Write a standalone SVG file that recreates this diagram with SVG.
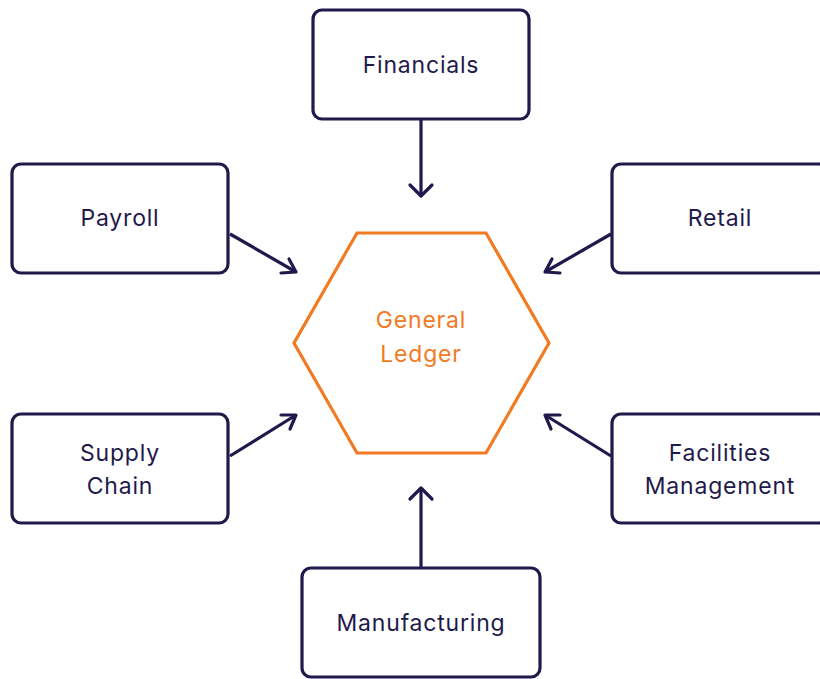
<svg xmlns="http://www.w3.org/2000/svg" width="820" height="679" viewBox="0 0 820 679">
<defs>
<style>
.box{fill:#ffffff;stroke:#1f1a4b;stroke-width:3.2}
.lbl{font-family:Inter,"Noto Sans","Liberation Sans",sans-serif;font-size:23px;letter-spacing:0.8px;fill:#1f1a4b;text-anchor:middle}
.hex{fill:#ffffff;stroke:#f27a22;stroke-width:3.2}
.hlbl{font-family:Inter,"Noto Sans","Liberation Sans",sans-serif;font-size:23px;letter-spacing:0.8px;fill:#f27a22;text-anchor:middle}
.conn{fill:none;stroke:#1f1a4b;stroke-width:3.2}
.head{fill:none;stroke:#1f1a4b;stroke-width:3.2;stroke-linecap:round;stroke-linejoin:round}
</style>
</defs>
<rect width="820" height="679" fill="#ffffff"/>
<g id="connectors">
<line class="conn" x1="421" y1="119" x2="421" y2="196"/>
<polyline class="head" points="410,185 421,196 432,185"/>
<line class="conn" x1="230" y1="234" x2="296" y2="272"/>
<polyline class="head" points="281,273 296,272 289,259"/>
<line class="conn" x1="611" y1="234" x2="545" y2="272"/>
<polyline class="head" points="560,273 545,272 552,259"/>
<line class="conn" x1="230" y1="456" x2="296" y2="415"/>
<polyline class="head" points="281,415 296,415 290,429"/>
<line class="conn" x1="611" y1="456" x2="545" y2="415"/>
<polyline class="head" points="560,415 545,415 551,429"/>
<line class="conn" x1="421" y1="567" x2="421" y2="488"/>
<polyline class="head" points="410,499 421,488 432,499"/>
</g>
<g id="node-financials">
<rect class="box" x="313" y="10" width="216" height="109" rx="9"/>
<text class="lbl" x="421" y="73">Financials</text>
</g>
<g id="node-payroll">
<rect class="box" x="12" y="164" width="216" height="109" rx="9"/>
<text class="lbl" x="120" y="226">Payroll</text>
</g>
<g id="node-retail">
<rect class="box" x="612" y="164" width="216" height="109" rx="9"/>
<text class="lbl" x="720" y="226">Retail</text>
</g>
<g id="node-supply-chain">
<rect class="box" x="12" y="414" width="216" height="109" rx="9"/>
<text class="lbl" x="120" y="461">Supply</text>
<text class="lbl" x="120" y="494">Chain</text>
</g>
<g id="node-facilities">
<rect class="box" x="612" y="414" width="216" height="109" rx="9"/>
<text class="lbl" x="720" y="461">Facilities</text>
<text class="lbl" x="720" y="494">Management</text>
</g>
<g id="node-manufacturing">
<rect class="box" x="302" y="568" width="238" height="109" rx="9"/>
<text class="lbl" x="421" y="631">Manufacturing</text>
</g>
<g id="node-general-ledger">
<polygon class="hex" points="357,233 486,233 549,343 486,453 357,453 294,343"/>
<text class="hlbl" x="421" y="328">General</text>
<text class="hlbl" x="421" y="362">Ledger</text>
</g>
</svg>
